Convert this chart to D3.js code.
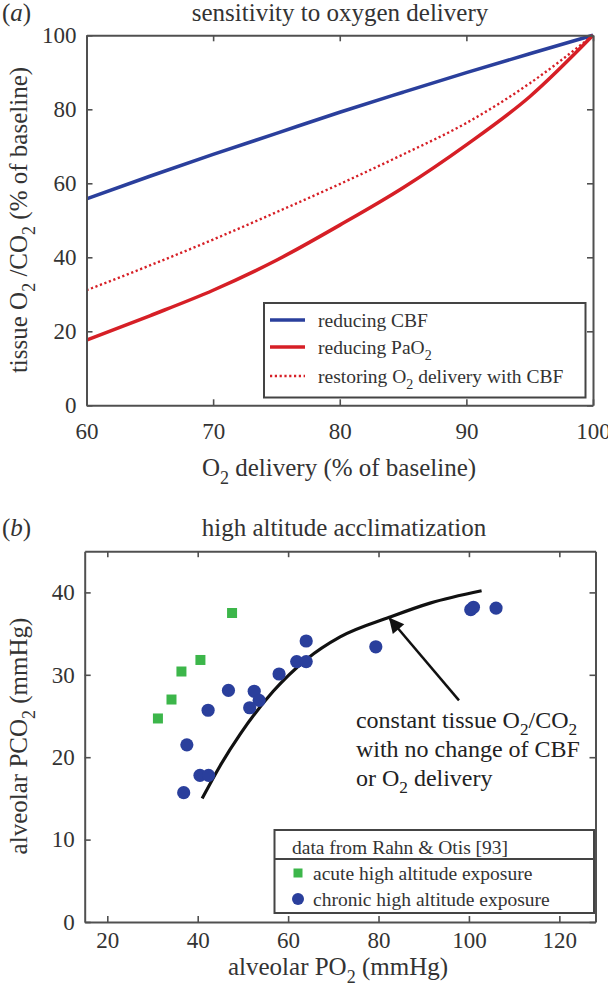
<!DOCTYPE html>
<html><head><meta charset="utf-8">
<script src="https://cdn.jsdelivr.net/npm/d3@7"></script>
<style>
html,body{margin:0;padding:0;background:#fff;}
svg{display:block;}
text{font-family:'Liberation Serif','Times New Roman',serif;fill:#333;}
</style></head>
<body>
<script>
// ---------- Panel (a) data ----------
const deliveryPct   = [60, 65, 70, 75, 80, 85, 90, 95, 100];
const reducingCBF   = [55.8, 61.9, 67.8, 73.5, 79.2, 84.6, 89.9, 95.0, 100];
const reducingPaO2  = [17.6, 24.2, 31.1, 39.2, 48.7, 58.8, 70.4, 83.4, 100];
const restoringO2   = [31.1, 37.8, 44.8, 52.2, 59.8, 67.8, 76.3, 87.0, 100];
const xTicksA = [60, 70, 80, 90, 100];
const yTicksA = [0, 20, 40, 60, 80, 100];

// ---------- Panel (b) data ----------
const acutePO2   = [47.6, 40.6, 36.4, 34.2, 31.2];
const acutePCO2  = [37.5, 31.8, 30.4, 27.0, 24.7];
const chronicPO2  = [64.0, 79.4, 61.9, 64.0, 58.0, 46.8, 52.5, 53.6, 51.5, 42.3, 37.6, 40.5, 42.4, 36.9, 100.4, 101.0, 106.0];
const chronicPCO2 = [34.1, 33.4, 31.6, 31.6, 30.1, 28.1, 28.0, 26.9, 26.0, 25.7, 21.5, 17.8, 17.8, 15.7, 37.9, 38.2, 38.1];
const constPO2  = [41, 45, 49.4, 56.7, 64.1, 71.5, 82.5, 91.4, 102.8];
const constPCO2 = [15, 19.0, 22.8, 28.0, 31.9, 34.6, 37.0, 38.7, 40.2];
const arrowTail = [97.8, 26.9];
const arrowTip  = [82.5, 36.8];
const xTicksB = [20, 40, 60, 80, 100, 120];
const yTicksB = [0, 10, 20, 30, 40];

const W = 608, H = 990;
const AX = "#505050", BLUE = "#2a3f9c", RED = "#d61f26", GREEN = "#3cb64a";
const FS = 25;

const svg = d3.select("body").append("svg").attr("width", W).attr("height", H);

// text with subscripts: parts = strings or [sub]
function richText(t, parts, fs) {
  let shifted = false;
  const sh = fs * 0.3;
  parts.forEach(p => {
    if (Array.isArray(p)) {
      t.append("tspan").attr("font-size", fs * 0.72).attr("dy", sh).text(p[0]);
      shifted = true;
    } else {
      const ts = t.append("tspan").text(p);
      if (shifted) { ts.attr("dy", -sh); shifted = false; }
    }
  });
  return t;
}

function frame(g, x, y, xt, yt, xPad) {
  const [x0, x1] = x.range(), [y0, y1] = y.range();
  const bottom = g.append("g").attr("transform", `translate(0,${y0})`)
    .call(d3.axisBottom(x).tickValues(xt).tickSizeInner(-6).tickSizeOuter(0).tickPadding(xPad));
  const left = g.append("g").attr("transform", `translate(${x0},0)`)
    .call(d3.axisLeft(y).tickValues(yt).tickSizeInner(-6).tickSizeOuter(0).tickPadding(10));
  const top = g.append("g").attr("transform", `translate(0,${y1})`)
    .call(d3.axisTop(x).tickValues(xt).tickSizeInner(-6).tickSizeOuter(0).tickFormat(""));
  const right = g.append("g").attr("transform", `translate(${x1},0)`)
    .call(d3.axisRight(y).tickValues(yt).tickSizeInner(-6).tickSizeOuter(0).tickFormat(""));
  [bottom, left, top, right].forEach(a => {
    a.select(".domain").attr("stroke", AX).attr("stroke-width", 2);
    a.selectAll(".tick line").attr("stroke", AX).attr("stroke-width", 1.6);
    a.selectAll(".tick text").attr("font-size", 23).attr("fill", "#3a3a3a")
      .attr("font-family", "'Liberation Serif','Times New Roman',serif");
  });
}

// ================= Panel (a) =================
const xA = d3.scaleLinear([60, 100], [86.5, 593]);
const yA = d3.scaleLinear([0, 100], [405.3, 35.3]);
const gA = svg.append("g");

const lineA = vals => d3.line().x((d, i) => xA(deliveryPct[i])).y(d => yA(d)).curve(d3.curveMonotoneX)(vals);
gA.append("path").attr("d", lineA(reducingCBF)).attr("fill", "none").attr("stroke", BLUE).attr("stroke-width", 3.5);
gA.append("path").attr("d", lineA(reducingPaO2)).attr("fill", "none").attr("stroke", RED).attr("stroke-width", 3.5);
gA.append("path").attr("d", lineA(restoringO2)).attr("fill", "none").attr("stroke", RED).attr("stroke-width", 2.4).attr("stroke-dasharray", "2.2,2.6");

frame(gA, xA, yA, xTicksA, yTicksA, 17);

gA.append("text").attr("x", 2).attr("y", 21).attr("font-size", FS)
  .html("(<tspan font-style='italic'>a</tspan>)");
gA.append("text").attr("x", 340).attr("y", 21).attr("font-size", FS).attr("text-anchor", "middle")
  .text("sensitivity to oxygen delivery");
richText(gA.append("text").attr("x", 339).attr("y", 476).attr("font-size", FS).attr("text-anchor", "middle"),
  ["O", ["2"], " delivery (% of baseline)"], FS);
richText(gA.append("text").attr("transform", "translate(27,220) rotate(-90)").attr("font-size", FS).attr("text-anchor", "middle"),
  ["tissue O", ["2"], " /CO", ["2"], " (% of baseline)"], FS);

// legend (a)
const legA = gA.append("g");
legA.append("rect").attr("x", 264).attr("y", 303).attr("width", 321.5).attr("height", 94.5)
  .attr("fill", "#fff").attr("stroke", "#444").attr("stroke-width", 2);
const legItemsA = [
  {c: BLUE, dash: null, w: 3.5, parts: ["reducing CBF"]},
  {c: RED, dash: null, w: 3.5, parts: ["reducing PaO", ["2"]]},
  {c: RED, dash: "2.2,2.6", w: 2.4, parts: ["restoring O", ["2"], " delivery with CBF"]}
];
const legYA = [320, 347, 376];
legItemsA.forEach((it, i) => {
  const y = legYA[i];
  legA.append("line").attr("x1", 270).attr("x2", 305).attr("y1", y).attr("y2", y)
    .attr("stroke", it.c).attr("stroke-width", it.w).attr("stroke-dasharray", it.dash);
  richText(legA.append("text").attr("x", 318).attr("y", y + 7).attr("font-size", 19.5), it.parts, 19.5);
});

// ================= Panel (b) =================
const xB = d3.scaleLinear([15, 128], [84.7, 595.5]);
const yB = d3.scaleLinear([0, 45], [922, 551.2]);
const gB = svg.append("g");

gB.append("path")
  .attr("d", d3.line().x((d, i) => xB(constPO2[i])).y(d => yB(d)).curve(d3.curveMonotoneX)(constPCO2))
  .attr("fill", "none").attr("stroke", "#111").attr("stroke-width", 3.2);

gB.selectAll("rect.acute").data(acutePO2).join("rect").attr("class", "acute")
  .attr("x", (d) => xB(d) - 5).attr("y", (d, i) => yB(acutePCO2[i]) - 5)
  .attr("width", 10).attr("height", 10).attr("fill", GREEN);
gB.selectAll("circle.chronic").data(chronicPO2).join("circle").attr("class", "chronic")
  .attr("cx", d => xB(d)).attr("cy", (d, i) => yB(chronicPCO2[i])).attr("r", 6.6).attr("fill", BLUE);

// arrow
const defs = svg.append("defs");
defs.append("marker").attr("id", "ah").attr("viewBox", "0 0 10 10").attr("refX", 9).attr("refY", 5)
  .attr("markerWidth", 7.5).attr("markerHeight", 6).attr("markerUnits", "strokeWidth").attr("orient", "auto")
  .append("path").attr("d", "M0,0 L10,5 L0,10 z").attr("fill", "#111");
gB.append("line").attr("x1", xB(arrowTail[0])).attr("y1", yB(arrowTail[1]))
  .attr("x2", xB(arrowTip[0])).attr("y2", yB(arrowTip[1]))
  .attr("stroke", "#111").attr("stroke-width", 2.5).attr("marker-end", "url(#ah)");

// annotation
const annX = 75.0;
const annLines = [
  {y: 23.55, parts: ["constant tissue O", ["2"], "/CO", ["2"]]},
  {y: 20.0, parts: ["with no change of CBF"]},
  {y: 16.5, parts: ["or O", ["2"], " delivery"]}
];
annLines.forEach(l => richText(gB.append("text").attr("x", xB(annX)).attr("y", yB(l.y)).attr("font-size", 24).style("fill", "#222"), l.parts, 24));

frame(gB, xB, yB, xTicksB, yTicksB, 10);

gB.append("text").attr("x", 2).attr("y", 536).attr("font-size", FS)
  .html("(<tspan font-style='italic'>b</tspan>)");
gB.append("text").attr("x", 344).attr("y", 536).attr("font-size", FS).attr("text-anchor", "middle")
  .text("high altitude acclimatization");
richText(gB.append("text").attr("x", 338).attr("y", 975).attr("font-size", FS).attr("text-anchor", "middle"),
  ["alveolar PO", ["2"], " (mmHg)"], FS);
richText(gB.append("text").attr("transform", "translate(27,736) rotate(-90)").attr("font-size", FS).attr("text-anchor", "middle"),
  ["alveolar PCO", ["2"], " (mmHg)"], FS);

// legend (b)
const legB = gB.append("g");
legB.append("rect").attr("x", 274.5).attr("y", 830).attr("width", 319.5).attr("height", 83)
  .attr("fill", "#fff").attr("stroke", "#444").attr("stroke-width", 2);
legB.append("line").attr("x1", 274.5).attr("x2", 594).attr("y1", 859).attr("y2", 859)
  .attr("stroke", "#444").attr("stroke-width", 2);
legB.append("text").attr("x", 292).attr("y", 854).attr("font-size", 19.5).text("data from Rahn & Otis [93]");
legB.append("rect").attr("x", 293.5).attr("y", 868.5).attr("width", 9).attr("height", 9).attr("fill", GREEN);
legB.append("text").attr("x", 313).attr("y", 880).attr("font-size", 19.5).text("acute high altitude exposure");
legB.append("circle").attr("cx", 298).attr("cy", 899).attr("r", 6).attr("fill", BLUE);
legB.append("text").attr("x", 313).attr("y", 906).attr("font-size", 19.5).text("chronic high altitude exposure");
</script>
</body></html>
